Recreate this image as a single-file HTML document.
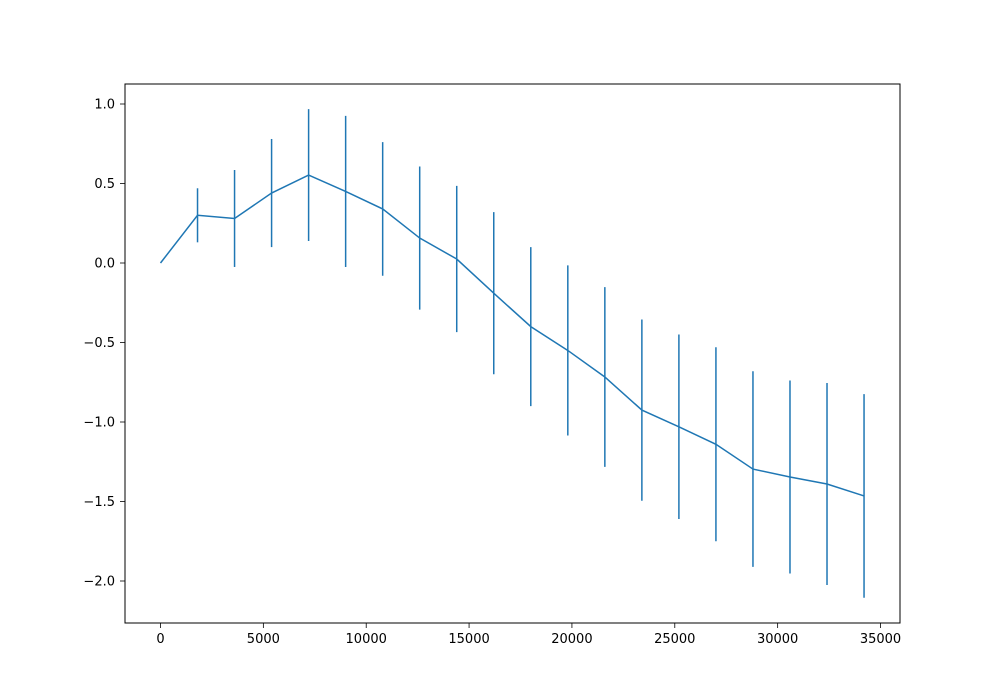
<!DOCTYPE html>
<html><head><meta charset="utf-8"><style>
html,body{margin:0;padding:0;background:#fff;}
svg{display:block;font-family:"DejaVu Sans","Liberation Sans",sans-serif;}
</style></head><body>
<svg id="chart" width="1000" height="700" viewBox="0 0 1000 700">
<rect x="0" y="0" width="1000" height="700" fill="#fff"/>
<g id="marks"></g>
<rect x="125" y="84" width="775" height="539" fill="none" stroke="#000" stroke-width="1"/>
<g id="xticks"></g>
<g id="yticks"></g>
</svg>
<script>
const xValues = [0,1800,3600,5400,7200,9000,10800,12600,14400,16200,18000,19800,21600,23400,25200,27000,28800,30600,32400,34200];
const yValues = [0,0.30,0.28,0.44,0.553,0.45,0.34,0.157,0.025,-0.19,-0.40,-0.55,-0.717,-0.925,-1.03,-1.14,-1.296,-1.346,-1.39,-1.465];
const yErrors = [0,0.17,0.305,0.34,0.415,0.475,0.42,0.45,0.46,0.51,0.5,0.535,0.565,0.57,0.58,0.61,0.615,0.607,0.635,0.64];
const xTicks = [0,5000,10000,15000,20000,25000,30000,35000];
const yTicks = [1.0,0.5,0.0,-0.5,-1.0,-1.5,-2.0];
const yTickLabels = ["1.0","0.5","0.0","\u22120.5","\u22121.0","\u22121.5","\u22122.0"];

const NS = "http://www.w3.org/2000/svg";
function sx(v){ return 160.5 + v * (720/35000); }
function sy(v){ return 263 - v * 159; }
function mk(tag, attrs, parent){
  const e = document.createElementNS(NS, tag);
  for (const k in attrs) e.setAttribute(k, attrs[k]);
  parent.appendChild(e); return e;
}
const marks = document.getElementById('marks');
const color = "#1f77b4";
xValues.forEach((x,i)=>{
  if (yErrors[i] <= 0) return;
  const l = mk('line',{x1:sx(x),x2:sx(x),y1:sy(yValues[i]+yErrors[i]),y2:sy(yValues[i]-yErrors[i]),stroke:color,'stroke-width':1.5},marks);
  
  
});
const pl = mk('polyline',{points:xValues.map((x,i)=>sx(x)+','+sy(yValues[i])).join(' '),fill:'none',stroke:color,'stroke-width':1.5},marks);



const xg = document.getElementById('xticks');
xTicks.forEach(t=>{
  const x = sx(t);
  const tk = mk('line',{x1:x,x2:x,y1:623,y2:628,stroke:'#000','stroke-width':0.8},xg);
  
  
  const tx = mk('text',{x:x,y:643,'text-anchor':'middle','font-size':13,fill:'#000'},xg);
  tx.textContent = String(t);
  
  
});
const yg = document.getElementById('yticks');
yTicks.forEach((t,i)=>{
  const y = sy(t);
  const tk = mk('line',{x1:120,x2:125,y1:y,y2:y,stroke:'#000','stroke-width':0.8},yg);
  
  
  const tx = mk('text',{x:115,y:y+4.5,'text-anchor':'end','font-size':13,fill:'#000'},yg);
  tx.textContent = yTickLabels[i];
  
  
});
</script>
</body></html>
